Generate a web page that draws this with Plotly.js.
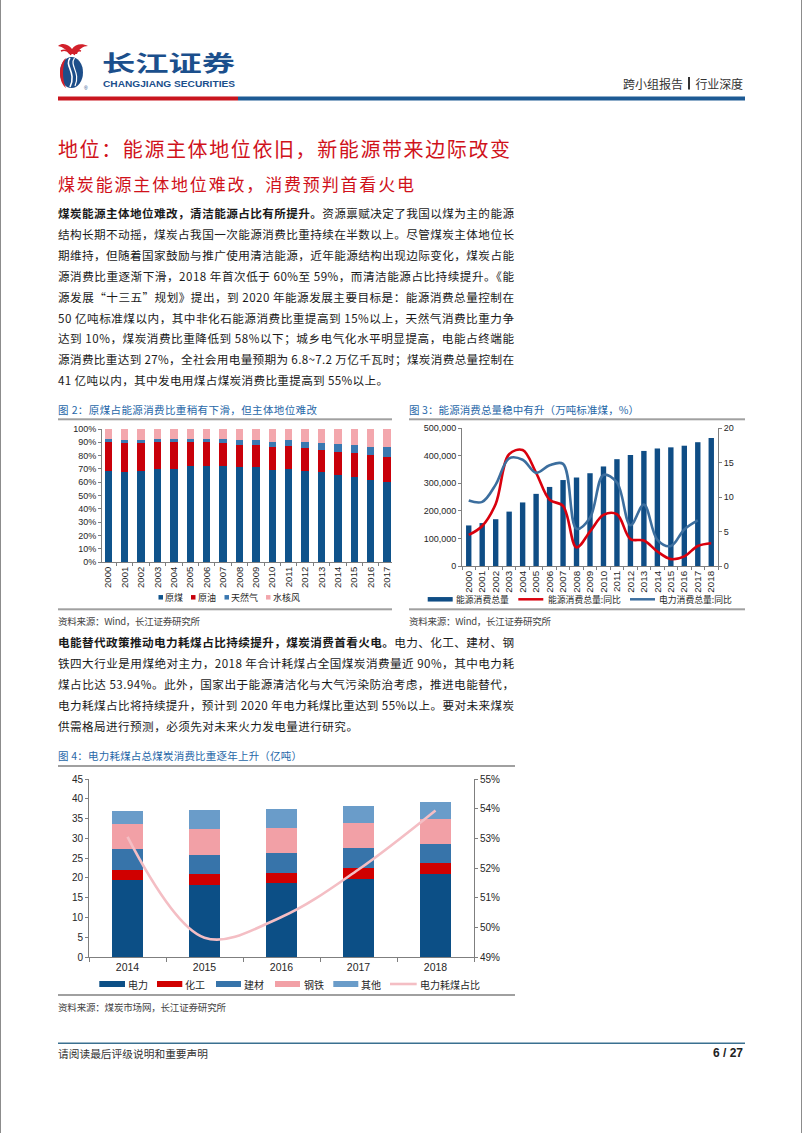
<!DOCTYPE html>
<html><head><meta charset="utf-8">
<script src="https://cdn.plot.ly/plotly-3.0.1.min.js"></script>
<style>
html,body{margin:0;padding:0;background:#fff;}
#page{position:relative;width:802px;height:1133px;overflow:hidden;background:#fff;}
#bg{position:absolute;left:0;top:0;}
.chart{position:absolute;}
</style></head><body>
<div id="page">
<svg id="bg" width="802" height="1133" xmlns="http://www.w3.org/2000/svg"></svg>
<div id="c1" class="chart" style="left:58px;top:421px;width:340px;height:188px"></div>
<div id="c2" class="chart" style="left:409px;top:421px;width:336px;height:188px"></div>
<div id="c3" class="chart" style="left:58px;top:767px;width:457px;height:228px"></div>
</div>
<script>
// ---------------- DATA ----------------
// Fig 2: energy consumption structure (%)
const years1 = ['2000','2001','2002','2003','2004','2005','2006','2007','2008','2009','2010','2011','2012','2013','2014','2015','2016','2017'];
const coal  = [68.5,68.0,68.5,70.2,70.2,72.4,72.4,72.5,71.5,71.6,69.2,70.2,68.5,67.4,65.6,63.7,62.0,60.4];
const oil   = [22.0,21.2,21.0,20.1,19.9,17.8,17.5,17.0,16.7,16.4,17.4,16.8,17.0,17.1,17.4,18.3,18.5,18.8];
const gas   = [2.2,2.4,2.3,2.3,2.3,2.4,2.7,3.0,3.4,3.5,4.0,4.6,4.8,5.3,5.7,5.9,6.2,7.0];
const hydro = [7.3,8.4,8.2,7.4,7.6,7.4,7.4,7.5,8.4,8.5,9.4,8.4,9.7,10.2,11.3,12.1,13.3,13.8];
const names1 = ['原煤','原油','天然气','水核风'];

// Fig 3: total energy consumption (万吨标准煤) and YoY (%)
const years2 = ['2000','2001','2002','2003','2004','2005','2006','2007','2008','2009','2010','2011','2012','2013','2014','2015','2016','2017','2018'];
const energyTotal = [146964,155547,169577,197083,230281,261369,286467,311442,320611,336126,360648,387043,402138,416913,425806,429905,435819,448529,464000];
const energyYoY   = [4.5,5.8,9.0,16.2,16.8,13.5,9.6,8.7,2.7,5.0,7.4,7.5,3.9,3.7,2.1,1.0,1.4,2.9,3.3];
const elecYoY     = [9.5,9.3,11.8,15.6,15.4,13.5,14.6,14.8,5.4,7.0,13.2,12.1,5.9,8.9,3.8,2.9,5.3,6.6,null];
const names2 = ['能源消费总量','能源消费总量:同比','电力消费总量:同比'];

// Fig 4: coal consumption by industry (亿吨) and power share (%)
const years3 = ['2014','2015','2016','2017','2018'];
const power = [19.4,18.3,18.6,19.6,20.9];
const chem  = [2.5,2.6,2.7,3.0,2.9];
const build = [5.5,5.0,5.1,5.0,4.7];
const steel = [6.2,6.4,6.3,6.2,6.5];
const other = [3.3,4.8,4.6,4.5,4.3];
const powerShare = [53.05,49.65,50.35,51.95,53.94];
const names3 = ['电力','化工','建材','钢铁','其他','电力耗煤占比'];

// ---------------- STATIC PAGE (SVG text) ----------------
const NS = 'http://www.w3.org/2000/svg';
const FONT = '"Noto Sans CJK SC", "Liberation Sans", sans-serif';
const PFONT = '"Liberation Sans", "Noto Sans CJK SC", sans-serif';
const bg = document.getElementById('bg');
function el(tag, attrs, parent){
  const e = document.createElementNS(NS, tag);
  for (const k in attrs) e.setAttribute(k, attrs[k]);
  (parent || bg).appendChild(e);
  return e;
}
function txt(x, y, segs, o){
  const a = {x:x, y:y, 'font-size':o.size, fill:o.color || '#1a1a1a', 'font-family':o.family || FONT, 'dominant-baseline':'central'};
  if (o.len){ a.textLength = o.len; a.lengthAdjust = o.adj || 'spacing'; }
  if (o.anchor) a['text-anchor'] = o.anchor;
  if (o.weight) a['font-weight'] = o.weight;
  const t = el('text', a);
  if (typeof segs === 'string') segs = [[segs]];
  segs.forEach(s => { const ts = el('tspan', {}, t); if (s[1]) ts.setAttribute('font-weight','bold'); ts.textContent = s[0]; });
  return t;
}
// page side borders
el('rect',{x:0,y:0,width:1,height:1133,fill:'#8c8c8c'});
el('rect',{x:801,y:0,width:1,height:1133,fill:'#8c8c8c'});

// logo emblem
el('path',{d:'M58,46 C63,42 69,45 72,49 C75,44 82,43 88,46 C83,46 79,49 77,54 L69,54 C67,50 63,47 58,46 Z',fill:'#d2202a'});
el('path',{d:'M61,51 C65,49 69,51 71,55',stroke:'#d2202a','stroke-width':1.5,fill:'none'});
el('path',{d:'M81,51 C78,50 75,52 74,55',stroke:'#d2202a','stroke-width':1.5,fill:'none'});
el('ellipse',{cx:71.5,cy:72.5,rx:11.5,ry:15.5,fill:'#1d4e89'});
el('path',{d:'M66,58 C58,64 58,82 66,88 C62,80 62,66 66,58 Z',fill:'#d2202a'});
el('path',{d:'M70,58 C64,66 77,72 70,87',stroke:'#fff','stroke-width':1.6,fill:'none'});
el('path',{d:'M74.5,58 C69,66 81,72 75,86',stroke:'#fff','stroke-width':1.2,fill:'none'});
txt(84, 88, '®', {size:5, color:'#1d4e89', family:PFONT});
txt(102, 61, '长江证券', {size:22, color:'#1b4f8c', weight:'bold', len:133, adj:'spacingAndGlyphs'});
txt(103, 83.5, 'CHANGJIANG SECURITIES', {size:8.6, color:'#1b4f8c', weight:'bold', len:132, adj:'spacingAndGlyphs', family:PFONT});
txt(623, 83.3, '跨小组报告', {size:12, color:'#333', len:60});
el('rect',{x:688,y:77,width:2,height:12.5,fill:'#333'});
txt(695.5, 83.3, '行业深度', {size:12, color:'#333', len:47.5});
el('rect',{x:58,y:96.5,width:180,height:4,fill:'#c9151e'});
el('rect',{x:238,y:96.5,width:507,height:4,fill:'#1d5a94'});

// headings
txt(58, 148.3, '地位：能源主体地位依旧，新能源带来边际改变', {size:20, color:'#d0121b', len:452});
txt(58, 183, '煤炭能源主体地位难改，消费预判首看火电', {size:17, color:'#d0121b', len:356});

// paragraph 1
const para1 = [
  [['煤炭能源主体地位难改，清洁能源占比有所提升。',1],['资源禀赋决定了我国以煤为主的能源']],
  [['结构长期不动摇，煤炭占我国一次能源消费比重持续在半数以上。尽管煤炭主体地位长']],
  [['期维持，但随着国家鼓励与推广使用清洁能源，近年能源结构出现边际变化，煤炭占能']],
  [['源消费比重逐渐下滑，2018 年首次低于 60%至 59%，而清洁能源占比持续提升。《能']],
  [['源发展“十三五”规划》提出，到 2020 年能源发展主要目标是：能源消费总量控制在']],
  [['50 亿吨标准煤以内，其中非化石能源消费比重提高到 15%以上，天然气消费比重力争']],
  [['达到 10%，煤炭消费比重降低到 58%以下；城乡电气化水平明显提高，电能占终端能']],
  [['源消费比重达到 27%，全社会用电量预期为 6.8~7.2 万亿千瓦时；煤炭消费总量控制在']],
  [['41 亿吨以内，其中发电用煤占煤炭消费比重提高到 55%以上。']]
];
para1.forEach((segs,i)=>{
  txt(58, 213.3 + i*20.84, segs, {size:11.6, color:'#1a1a1a', len: i===para1.length-1 ? 330 : 456});
});
// captions figs 2 & 3
txt(58, 409, '图 2：原煤占能源消费比重稍有下滑，但主体地位难改', {size:10.5, color:'#2767a8', len:259});
txt(409, 409, '图 3：能源消费总量稳中有升（万吨标准煤，%）', {size:10.5, color:'#2767a8', len:230});
el('rect',{x:58,y:418.3,width:334,height:2,fill:'#a0a0a0'});
el('rect',{x:409,y:418.3,width:336,height:2,fill:'#a0a0a0'});
el('rect',{x:58,y:608.3,width:334,height:2,fill:'#a0a0a0'});
el('rect',{x:409,y:608.3,width:336,height:2,fill:'#a0a0a0'});
txt(58, 620.7, '资料来源：Wind，长江证券研究所', {size:9.5, color:'#444', len:142});
txt(409, 620.7, '资料来源：Wind，长江证券研究所', {size:9.5, color:'#444', len:142});

// paragraph 2
const para2 = [
  [['电能替代政策推动电力耗煤占比持续提升，煤炭消费首看火电。',1],['电力、化工、建材、钢']],
  [['铁四大行业是用煤绝对主力，2018 年合计耗煤占全国煤炭消费量近 90%，其中电力耗']],
  [['煤占比达 53.94%。此外，国家出于能源清洁化与大气污染防治考虑，推进电能替代，']],
  [['电力耗煤占比将持续提升，预计到 2020 年电力耗煤比重达到 55%以上。要对未来煤炭']],
  [['供需格局进行预测，必须先对未来火力发电量进行研究。']]
];
para2.forEach((segs,i)=>{
  txt(58, 641.7 + i*21.08, segs, {size:11.6, color:'#1a1a1a', len: i===para2.length-1 ? 300 : 456});
});
txt(58, 755, '图 4：电力耗煤占总煤炭消费比重逐年上升（亿吨）', {size:10.5, color:'#2767a8', len:244});
el('rect',{x:58,y:765,width:457,height:2,fill:'#a0a0a0'});
el('rect',{x:58,y:994,width:457,height:2,fill:'#a0a0a0'});
txt(58, 1006.7, '资料来源：煤炭市场网，长江证券研究所', {size:9.5, color:'#444', len:168});

// footer
el('rect',{x:58,y:1042.5,width:687,height:1.5,fill:'#3a7090'});
txt(58, 1053.3, '请阅读最后评级说明和重要声明', {size:10.7, color:'#333', len:150});
txt(743, 1053.3, '6 / 27', {size:12, color:'#222', weight:'bold', anchor:'end', family:PFONT});

// ---------------- CHART HELPERS ----------------
function legendParts(items, geo){
  const px = x => (x - geo.left - geo.l) / geo.w;
  const py = y => 1 - (y - geo.top - geo.t) / geo.h;
  const shapes = [], annotations = [];
  items.forEach(it => {
    if (it.kind === 'rect'){
      shapes.push({type:'rect', xref:'paper', yref:'paper', x0:px(it.x0), x1:px(it.x1),
        y0:py(it.y + it.th/2), y1:py(it.y - it.th/2), fillcolor:it.color, line:{width:0}});
    } else {
      shapes.push({type:'line', xref:'paper', yref:'paper', x0:px(it.x0), x1:px(it.x1),
        y0:py(it.y), y1:py(it.y), line:{color:it.color, width:it.th}});
    }
    annotations.push({xref:'paper', yref:'paper', x:px(it.tx), y:py(it.y), xanchor:'left', yanchor:'middle',
      text:it.label, showarrow:false, borderpad:0, font:{size:it.size, color:'#262626', family:FONT}});
  });
  return {shapes, annotations};
}
const axBase = {showgrid:false, zeroline:false, showline:true, linecolor:'#7f7f7f', linewidth:1,
  ticks:'outside', tickcolor:'#7f7f7f', ticklen:3, tickfont:{size:9, color:'#262626', family:PFONT}, fixedrange:true};
const cfg = {staticPlot:true, displayModeBar:false};
const transparent = {paper_bgcolor:'rgba(0,0,0,0)', plot_bgcolor:'rgba(0,0,0,0)'};

// ---------------- CHART 1 ----------------
const colors1 = ['#0f538b','#c8000a','#3a78b0','#f3a7ad'];
const series1 = [coal, oil, gas, hydro];
const traces1 = series1.map((s,i)=>({type:'bar', x:years1, y:s, name:names1[i], marker:{color:colors1[i], line:{width:0}}, showlegend:false}));
const geo1 = {left:58, top:421, l:44, t:8, w:290, h:133};
const leg1 = legendParts([
  {kind:'rect', x0:158.5, x1:163, y:597.3, th:4.5, color:colors1[0], tx:164, label:names1[0], size:9},
  {kind:'rect', x0:191, x1:195.5, y:597.3, th:4.5, color:colors1[1], tx:196.5, label:names1[1], size:9},
  {kind:'rect', x0:224.5, x1:229, y:597.3, th:4.5, color:colors1[2], tx:230, label:names1[2], size:9},
  {kind:'rect', x0:266, x1:270.5, y:597.3, th:4.5, color:colors1[3], tx:271.5, label:names1[3], size:9}
], geo1);
Plotly.newPlot('c1', traces1, Object.assign({
  width:340, height:188, margin:{l:44, r:6, t:8, b:47, pad:0}, barmode:'stack', bargap:0.555,
  showlegend:false, font:{family:PFONT},
  xaxis:Object.assign({}, axBase, {type:'category', tickangle:-90, tickson:'boundaries', range:[-0.384,17.3],
    tickfont:{size:9.5, color:'#262626', family:PFONT}}),
  yaxis:Object.assign({}, axBase, {range:[0,100], dtick:10, ticksuffix:'%'}),
  shapes:leg1.shapes, annotations:leg1.annotations
}, transparent), cfg);

// ---------------- CHART 2 ----------------
const colors2 = ['#0f4d85','#d9000d','#3c6e9e'];
const geo2 = {left:409, top:421, l:53, t:7, w:256, h:138};
const traces2 = [
  {type:'bar', x:years2, y:energyTotal, name:names2[0], marker:{color:colors2[0]}, showlegend:false},
  {type:'scatter', mode:'lines', x:years2, y:energyYoY, name:names2[1], yaxis:'y2',
    line:{color:colors2[1], width:2.6, shape:'spline', smoothing:1}, showlegend:false},
  {type:'scatter', mode:'lines', x:years2, y:elecYoY, name:names2[2], yaxis:'y2',
    line:{color:colors2[2], width:2.6, shape:'spline', smoothing:1}, showlegend:false}
];
const leg2 = legendParts([
  {kind:'rect', x0:427.7, x1:452.7, y:599.3, th:4.5, color:colors2[0], tx:455, label:names2[0], size:8.8},
  {kind:'line', x0:518.3, x1:543.3, y:599.3, th:2.5, color:colors2[1], tx:546.7, label:names2[1], size:8.8},
  {kind:'line', x0:630, x1:655, y:599.3, th:2.5, color:colors2[2], tx:658.3, label:names2[2], size:8.8}
], geo2);
Plotly.newPlot('c2', traces2, Object.assign({
  width:336, height:188, margin:{l:53, r:27, t:7, b:43, pad:0}, bargap:0.6, showlegend:false, font:{family:PFONT},
  xaxis:Object.assign({}, axBase, {type:'category', tickangle:-90, tickson:'boundaries', range:[-0.5,18.5],
    tickfont:{size:9.8, color:'#262626', family:PFONT}}),
  yaxis:Object.assign({}, axBase, {range:[0,500000], dtick:100000, tickformat:',d'}),
  yaxis2:Object.assign({}, axBase, {range:[0,20], dtick:5, overlaying:'y', side:'right'}),
  shapes:leg2.shapes, annotations:leg2.annotations
}, transparent), cfg);

// ---------------- CHART 3 ----------------
const colors3 = ['#0c4f86','#d00000','#3774aa','#f2a0a6','#6a9cc9','#f4bec4'];
const series3 = [power, chem, build, steel, other];
const geo3 = {left:58, top:767, l:31, t:12, w:385, h:178};
const traces3 = series3.map((s,i)=>({type:'bar', x:years3, y:s, name:names3[i], marker:{color:colors3[i], line:{width:0}}, showlegend:false}));
traces3.push({type:'scatter', mode:'lines', x:years3, y:powerShare, name:names3[5], yaxis:'y2',
  line:{color:colors3[5], width:2.6, shape:'spline', smoothing:1}, showlegend:false});
const leg3Pos = [[99.3,125,126.7],[157,182.3,184.3],[216,241,243.3],[275,300,302.7],[333.3,358.3,360]];
const leg3Items = leg3Pos.map((p,i)=>({kind:'rect', x0:p[0], x1:p[1], y:984, th:6, color:colors3[i], tx:p[2], label:names3[i], size:10}));
leg3Items.push({kind:'line', x0:390, x1:416.7, y:984, th:2.6, color:colors3[5], tx:419, label:names3[5], size:10});
const leg3 = legendParts(leg3Items, geo3);
Plotly.newPlot('c3', traces3, Object.assign({
  width:457, height:228, margin:{l:31, r:41, t:12, b:38, pad:0}, barmode:'stack', bargap:0.585, showlegend:false, font:{family:PFONT},
  xaxis:Object.assign({}, axBase, {type:'category', tickson:'boundaries', ticklen:4, range:[-0.5,4.5],
    tickfont:{size:10.5, color:'#262626', family:PFONT}}),
  yaxis:Object.assign({}, axBase, {range:[0,45], dtick:5, tickfont:{size:10, color:'#262626', family:PFONT}}),
  yaxis2:Object.assign({}, axBase, {range:[49,55], dtick:1, ticksuffix:'%', overlaying:'y', side:'right',
    tickfont:{size:10, color:'#262626', family:PFONT}}),
  shapes:leg3.shapes, annotations:leg3.annotations
}, transparent), cfg);
</script>
</body></html>
